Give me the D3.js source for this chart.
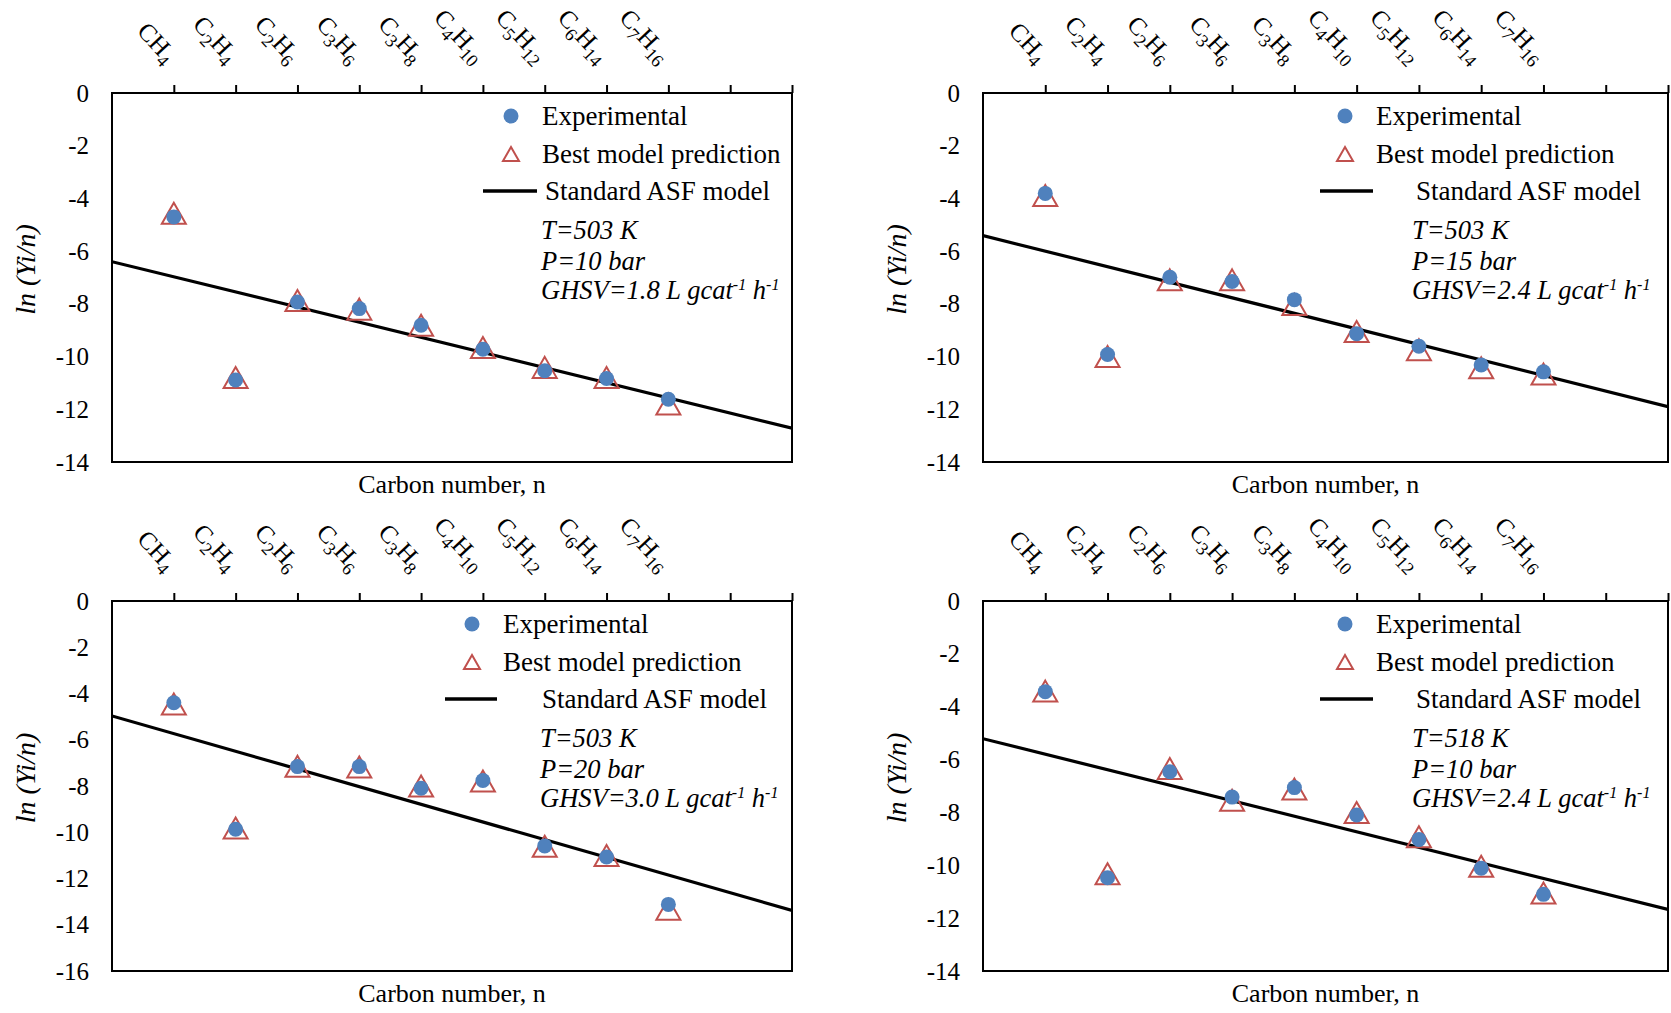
<!DOCTYPE html>
<html lang="en">
<head>
<meta charset="UTF-8">
<title>ASF distribution</title>
<script src="https://d3js.org/d3.v7.min.js"></script>
<style>
  body { margin: 0; background: #fff; }
  text { font-family: "Liberation Serif", "Times New Roman", serif; fill: #000; }
</style>
</head>
<body>
<svg width="1671" height="1013"></svg>
<script>
// products along the top axis (digits drawn as subscripts)
const products = ["CH4", "C2H4", "C2H6", "C3H6", "C3H8", "C4H10", "C5H12", "C6H14", "C7H16"];

// ln(Yi/n)
const expA  = [-4.70, -10.89, -7.93, -8.18, -8.81, -9.72, -10.54, -10.83, -11.62];
const predA = [-4.56, -10.79, -7.87, -8.20, -8.81, -9.66, -10.41, -10.79, -11.80];
const expB  = [-3.81, -9.92, -6.99, -7.15, -7.84, -9.13, -9.61, -10.32, -10.58];
const predB = [-3.89, -10.00, -7.09, -7.09, -8.02, -9.05, -9.74, -10.42, -10.66];
const expC  = [-4.40, -9.87, -7.16, -7.16, -8.10, -7.76, -10.59, -11.07, -13.12];
const predC = [-4.45, -9.82, -7.15, -7.18, -8.00, -7.78, -10.61, -11.01, -13.33];
const expD  = [-3.43, -10.47, -6.46, -7.42, -7.06, -8.10, -9.02, -10.11, -11.10];
const predD = [-3.41, -10.32, -6.34, -7.54, -7.11, -8.00, -8.92, -10.04, -11.05];

// standard ASF line, value at each end of the axis
const asfX = [0, 11];
const asfA = [-6.40, -12.72];
const asfB = [-5.41, -11.90];
const asfC = [-4.97, -13.38];
const asfD = [-5.21, -11.67];

// operating conditions
const temps = [503, 503, 503, 518];
const pressures = [10, 15, 20, 10];
const ghsv = ["1.8", "2.4", "3.0", "2.4"];
const yMins = [-14, -14, -16, -14];

const panels = [
  { exp: expA, pred: predA, asf: asfA, left: 112, top: 93, w: 680, h: 369,
    leg: { dot: 399, text: 430, l1: 371, l2: 425, ltext: 433, ann: 429 } },
  { exp: expB, pred: predB, asf: asfB, left: 983, top: 93, w: 685, h: 369,
    leg: { dot: 362, text: 393, l1: 337, l2: 390, ltext: 433, ann: 429 } },
  { exp: expC, pred: predC, asf: asfC, left: 112, top: 601, w: 680, h: 370,
    leg: { dot: 360, text: 391, l1: 333, l2: 385, ltext: 430, ann: 428 } },
  { exp: expD, pred: predD, asf: asfD, left: 983, top: 601, w: 685, h: 370,
    leg: { dot: 362, text: 393, l1: 337, l2: 390, ltext: 433, ann: 429 } }
];

const blue = "#4f81bd", red = "#c0504d";

// triangle centred on its bounding box, like the spreadsheet marker
function boxTriangle(w, h) {
  return {
    draw(ctx) {
      ctx.moveTo(0, -h / 2);
      ctx.lineTo(w / 2, h / 2);
      ctx.lineTo(-w / 2, h / 2);
      ctx.closePath();
    }
  };
}

const svg = d3.select("svg");
svg.append("rect").attr("width", 1671).attr("height", 1013).attr("fill", "#fff");

panels.forEach((p, k) => {
  const g = svg.append("g").attr("transform", `translate(${p.left},${p.top})`);
  const yMin = yMins[k];

  const x = d3.scaleLinear().domain([0, 11]).range([0, p.w]);
  const y = d3.scaleLinear().domain([0, yMin]).range([0, p.h]);

  // left tick labels, no tick marks
  const ya = g.append("g")
    .call(d3.axisLeft(y).tickValues(d3.range(0, yMin - 1, -2))
      .tickSize(0).tickPadding(23).tickFormat(d => String(d)));
  ya.select(".domain").remove();
  ya.selectAll("text").attr("font-size", 25);

  // top axis with outward ticks
  const xa = g.append("g")
    .call(d3.axisTop(x).tickValues(d3.range(1, 12)).tickSize(8).tickSizeOuter(0).tickFormat(""));
  xa.select(".domain").remove();
  xa.selectAll("line").attr("stroke", "#000").attr("stroke-width", 2);

  // plot frame
  g.append("rect").attr("width", p.w).attr("height", p.h)
    .attr("fill", "none").attr("stroke", "#000").attr("stroke-width", 2);

  // rotated product labels
  products.forEach((name, i) => {
    const t = g.append("text")
      .attr("text-anchor", "end")
      .attr("font-size", 25)
      .attr("transform", `translate(${x(i + 1) - 8},${-29}) rotate(47)`);
    name.match(/[A-Z]+|\d+/g).forEach(part => {
      if (/\d/.test(part)) {
        t.append("tspan").attr("font-size", 18).attr("dy", 6).text(part);
        t.append("tspan").attr("dy", -6).text("\u200b");
      } else {
        t.append("tspan").text(part);
      }
    });
  });

  // axis titles
  g.append("text").attr("x", p.w / 2).attr("y", p.h + 31)
    .attr("text-anchor", "middle").attr("font-size", 26).text("Carbon number, n");
  g.append("text")
    .attr("transform", `translate(${-77},${p.h / 2 - 8}) rotate(-90)`)
    .attr("text-anchor", "middle").attr("font-size", 28).attr("font-style", "italic")
    .text("ln (Yi/n)");

  // standard ASF line, clipped to the frame
  const clipId = "clip" + k;
  g.append("clipPath").attr("id", clipId)
    .append("rect").attr("width", p.w).attr("height", p.h);
  g.append("path")
    .datum(asfX.map((v, i) => [v, p.asf[i]]))
    .attr("clip-path", `url(#${clipId})`)
    .attr("fill", "none").attr("stroke", "#000").attr("stroke-width", 3.2)
    .attr("d", d3.line().x(d => x(d[0])).y(d => y(d[1])));

  // model predictions (hollow triangles)
  g.selectAll(".pred").data(p.pred).join("path")
    .attr("class", "pred")
    .attr("transform", (d, i) => `translate(${x(i + 1)},${y(d)})`)
    .attr("d", d3.symbol().type(boxTriangle(24, 21))())
    .attr("fill", "none").attr("stroke", red).attr("stroke-width", 2);

  // experimental points
  g.selectAll(".exp").data(p.exp).join("circle")
    .attr("class", "exp")
    .attr("cx", (d, i) => x(i + 1)).attr("cy", d => y(d))
    .attr("r", 7.5).attr("fill", blue);

  // legend
  const L = p.leg;
  g.append("circle").attr("cx", L.dot).attr("cy", 23).attr("r", 7.5).attr("fill", blue);
  g.append("text").attr("x", L.text).attr("y", 32).attr("font-size", 27).text("Experimental");
  g.append("path").attr("transform", `translate(${L.dot},61)`)
    .attr("d", d3.symbol().type(boxTriangle(16, 14))())
    .attr("fill", "none").attr("stroke", red).attr("stroke-width", 2);
  g.append("text").attr("x", L.text).attr("y", 70).attr("font-size", 27).text("Best model prediction");
  g.append("line").attr("x1", L.l1).attr("x2", L.l2).attr("y1", 98).attr("y2", 98)
    .attr("stroke", "#000").attr("stroke-width", 3.5);
  g.append("text").attr("x", L.ltext).attr("y", 107).attr("font-size", 27).text("Standard ASF model");

  // conditions
  const ann = [`T=${temps[k]} K`, `P=${pressures[k]} bar`];
  ann.forEach((s, i) => {
    g.append("text").attr("x", L.ann).attr("y", 146 + i * 30.5)
      .attr("font-size", 26.5).attr("font-style", "italic").text(s);
  });
  const gh = g.append("text").attr("x", L.ann).attr("y", 206)
    .attr("font-size", 26.5).attr("font-style", "italic");
  gh.append("tspan").text(`GHSV=${ghsv[k]} L gcat`);
  gh.append("tspan").attr("font-size", 16).attr("dy", -9).text("-1");
  gh.append("tspan").attr("dy", 9).text(" h");
  gh.append("tspan").attr("font-size", 16).attr("dy", -9).text("-1");
});
</script>
</body>
</html>
